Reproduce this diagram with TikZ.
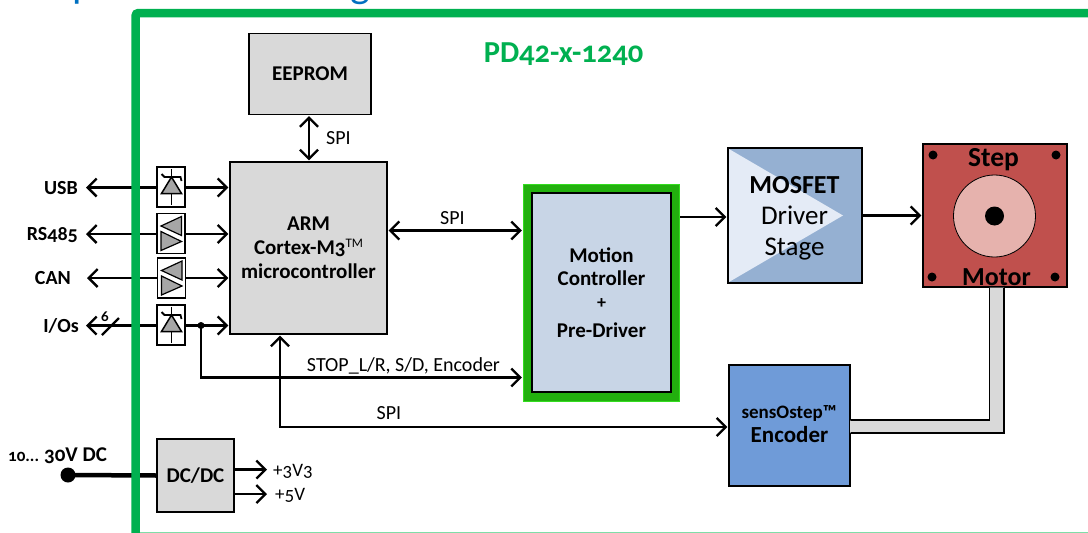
\documentclass[tikz,border=0pt]{standalone}
\usepackage{fontspec}
\setmainfont{Carlito}[Numbers=OldStyle]
\usetikzlibrary{arrows.meta}
\definecolor{framegreen}{HTML}{00B050}
\definecolor{lightframe}{HTML}{7FDDA8}
\definecolor{blockgray}{HTML}{D9D9D9}
\definecolor{symgray}{HTML}{A6A6A6}
\definecolor{mosblue}{HTML}{95B0D2}
\definecolor{moslight}{HTML}{E4EBF6}
\definecolor{motionblue}{HTML}{C8D5E6}
\definecolor{motiongreen}{HTML}{22B00E}
\definecolor{motionedge}{HTML}{33DD1F}
\definecolor{encblue}{HTML}{6F9BD8}
\definecolor{motorred}{HTML}{C0504D}
\definecolor{rotor}{HTML}{E6B2AD}
\definecolor{titleblue}{HTML}{0070C0}
\tikzset{
  x=1pt,y=-1pt,
  block/.style={draw=black,line width=1.3pt,fill=blockgray,inner sep=0pt,align=center,font=\bfseries\fontsize{21}{24}\selectfont},
  protbox/.style={draw=black,line width=1.3pt,fill=white,inner sep=0pt,minimum width=28pt,minimum height=40pt},
  conn/.style={line width=2.3pt,draw=black,shorten >=1pt},
  tip/.style={-{Straight Barb[length=9pt,width=18pt,line width=2.3pt]}},
  both/.style={{Straight Barb[length=9pt,width=18pt,line width=2.3pt]}-{Straight Barb[length=9pt,width=18pt,line width=2.3pt]},shorten <=1pt},
  sym/.style={draw=black,line width=1.2pt,fill=symgray},
  portlabel/.style={font=\bfseries\fontsize{20}{22}\selectfont,inner sep=0pt,anchor=base east},
  siglabel/.style={font=\fontsize{20}{22}\selectfont,inner sep=0pt,anchor=base},
  dotmark/.style={circle,fill=black,inner sep=0pt},
}
\begin{document}
\begin{tikzpicture}
\useasboundingbox (0,0) rectangle (1088,533);
% cut-off title descenders
\node[font=\fontsize{42}{46}\selectfont,text=titleblue,inner sep=0pt,anchor=base] (titlep) at (84,-3) {p};
\node[font=\fontsize{42}{46}\selectfont,text=titleblue,inner sep=0pt,anchor=base] (titleg) at (360,-3) {g};
% blocks
\node[block,minimum width=122pt,minimum height=81pt] (eeprom) at (310,74) {EEPROM};
\node[block,minimum width=157pt,minimum height=172pt,align=center] (arm) at (308.5,248) {ARM\\Cortex-M3{\raisebox{0.35em}{\mdseries\fontsize{13}{14}\selectfont TM}}\\microcontroller};
\node[draw=motionedge,line width=1.2pt,fill=motiongreen,minimum width=156pt,minimum height=217pt,inner sep=0pt] (motionouter) at (601.5,293) {};
\node[block,fill=motionblue,minimum width=139pt,minimum height=199pt,font=\bfseries\fontsize{21}{24}\selectfont] (motion) at (601.5,292.5) {Motion\\[-1pt]Controller\\[-1pt]{\fontsize{18}{16}\selectfont +}\\[5pt]Pre-Driver};
\node[block,fill=mosblue,minimum width=134pt,minimum height=135pt] (mosfet) at (795,215.5) {};
\fill[moslight] (729,149) -- (843,215.5) -- (729,282) -- cycle;
\node[inner sep=0pt,align=center,font=\fontsize{27}{31}\selectfont] (mostext) at (794.5,218.5) {{\bfseries\fontsize{26}{31}\selectfont MOSFET}\\Driver\\Stage};
\node[block,fill=motorred,minimum width=144pt,minimum height=143pt] (motor) at (995,215.5) {};
\node[circle,draw=black,line width=0.8pt,fill=rotor,minimum size=82pt,inner sep=0pt] (rotor) at (994.5,216) {};
\node[dotmark,minimum size=19pt] (shaftdot) at (994.5,216) {};
\node[dotmark,minimum size=9pt] (dota) at (933,155) {};
\node[dotmark,minimum size=9pt] (dotb) at (1056,155) {};
\node[dotmark,minimum size=9pt] (dotc) at (932,277) {};
\node[dotmark,minimum size=9pt] (dotd) at (1055,277) {};
\node[inner sep=0pt,font=\bfseries\fontsize{27.5}{30}\selectfont,anchor=base] (steplabel) at (993.5,166) {Step};
\node[inner sep=0pt,font=\bfseries\fontsize{26}{28}\selectfont,anchor=base] (motorlabel) at (996.5,285) {Motor};
\node[block,fill=encblue,minimum width=121pt,minimum height=121pt] (encoder) at (789.5,425.5) {};
\node[inner sep=0pt,align=center,anchor=base] (enctext) at (789,418) {\bfseries\fontsize{19}{20}\selectfont sensOstep™};
\node[inner sep=0pt,anchor=base,font=\bfseries\fontsize{23}{25}\selectfont] (enctextb) at (789.5,442) {Encoder};
\node[block,minimum width=77pt,minimum height=73pt] (dcdc) at (195.5,475.5) {DC/DC};
% protection boxes
\node[protbox] (pusb) at (171,187) {};
\node[protbox] (prs) at (171,233.5) {};
\node[protbox] (pcan) at (171.5,278) {};
\node[protbox] (pio) at (171,325) {};
% shaft
\fill[blockgray] (850,420.5) -- (989.5,420.5) -- (989.5,287.5) -- (1004,287.5) -- (1004,432.5) -- (850,432.5) -- cycle;
\draw[line width=1.6pt] (encoder.east |- 0,420) -- (989.5,420) -- (motor.south -| 989.5,0);
\draw[line width=1.6pt] (encoder.east |- 0,433) -- (1004,433) -- (motor.south -| 1004,0);
% port end points
\coordinate (usbend) at (85,187.5);
\coordinate (rsend) at (85,234);
\coordinate (canend) at (86,278);
\coordinate (ioend) at (85,325.5);
\draw[conn,tip] (pusb.west |- usbend) -- (usbend);
\draw[conn,tip] (prs.west |- rsend) -- (rsend);
\draw[conn,tip] (pcan.west |- canend) -- (canend);
\draw[conn,tip] (pio.west |- ioend) -- (ioend);
\draw[conn,tip] (pusb.east |- usbend) -- (arm.west |- usbend);
\draw[conn,tip] (prs.east |- rsend) -- (arm.west |- rsend);
\draw[conn,tip] (pcan.east |- canend) -- (arm.west |- canend);
\draw[conn,tip] (pio.east |- ioend) -- (arm.west |- ioend);
% I/O bus mark
\coordinate (slasha) at (102,335);
\coordinate (slashb) at (119,318);
\draw[line width=2.3pt] (slasha) -- (slashb);
\node[inner sep=0pt,anchor=base,font=\bfseries\fontsize{15}{16}\selectfont] (ionum) at (105,321) {6};
% junction and STOP line
\node[dotmark,minimum size=7pt] (junction) at (201,325.5) {};
\draw[conn,tip] (junction.center) -- (201,377.5) -- (motionouter.west |- 0,377.5);
\draw[conn,both] (eeprom.south -| 309,0) -- (arm.north -| 309,0);
\draw[conn,both] (arm.east |- 0,230.5) -- (motionouter.west |- 0,230.5);
\draw[conn,tip] (motionouter.east |- 0,217) -- (mosfet.west |- 0,217);
\draw[conn,tip] (mosfet.east |- 0,215.5) -- (motor.west |- 0,215.5);
\draw[conn,both] (arm.south -| 280,0) -- (280,427) -- (encoder.west |- 0,427);
% power
\node[dotmark,minimum size=15pt] (vin) at (68,475) {};
\draw[line width=4.5pt] (vin.center) -- (dcdc.west);
\coordinate (v3end) at (268,469.5);
\coordinate (v5end) at (268,494);
\draw[conn,tip] (dcdc.east |- v3end) -- (v3end);
\draw[conn,tip] (dcdc.east |- v5end) -- (v5end);
% diode symbols
\foreach \cx/\cy in {171.5/187,171.5/325}{
  \draw[line width=1.8pt] (\cx,\cy-18) -- (\cx,\cy+18);
  \draw[sym,line width=1.5pt] (\cx,\cy-10) -- (\cx+10,\cy+6.5) -- (\cx-10,\cy+6.5) -- cycle;
  \draw[line width=1.8pt] (\cx-10,\cy-13) -- (\cx-7,\cy-10) -- (\cx+9,\cy-10) -- (\cx+10,\cy-6);
}
% driver symbols
\foreach \cx/\cy in {171/233.5,171.5/278}{
  \draw[sym] (\cx+10.5,\cy-17) -- (\cx+10.5,\cy+2) -- (\cx-10,\cy-7.5) -- cycle;
  \draw[sym] (\cx-10,\cy-2) -- (\cx-10,\cy+17) -- (\cx+10.5,\cy+8) -- cycle;
}
% frame
\draw[framegreen,line width=8.5pt,rounded corners=3pt] (135.5,533) -- (135.5,13) -- (1088,13);
\draw[lightframe,line width=1pt] (140,532.5) -- (1088,532.5);
% labels
\node[inner sep=0pt,anchor=base,text=framegreen,font=\bfseries\fontsize{30.5}{33}\selectfont] (pdname) at (563.5,62) {PD42-x-1240};
\node[portlabel] (usb) at (78,194) {USB};
\node[portlabel] (rs) at (78,240) {RS485};
\node[portlabel] (can) at (71,284) {CAN};
\node[portlabel] (io) at (79,332) {I/Os};
\node[siglabel] (spia) at (338.5,144) {SPI};
\node[siglabel] (spib) at (452.5,224) {SPI};
\node[siglabel] (stop) at (403.5,371) {STOP\_L/R, S/D, Encoder};
\node[siglabel] (spic) at (389,419) {SPI};
\node[inner sep=0pt,anchor=base west,font=\bfseries\fontsize{21}{24}\selectfont] (vlabel) at (8,461) {{\fontsize{17}{20}\selectfont 10... }30V DC};
\node[siglabel,anchor=base west,font=\fontsize{19}{22}\selectfont] (v3) at (273,476) {+3V3};
\node[siglabel,anchor=base west,font=\fontsize{19}{22}\selectfont] (v5) at (275,500) {+5V};
\end{tikzpicture}
\end{document}
